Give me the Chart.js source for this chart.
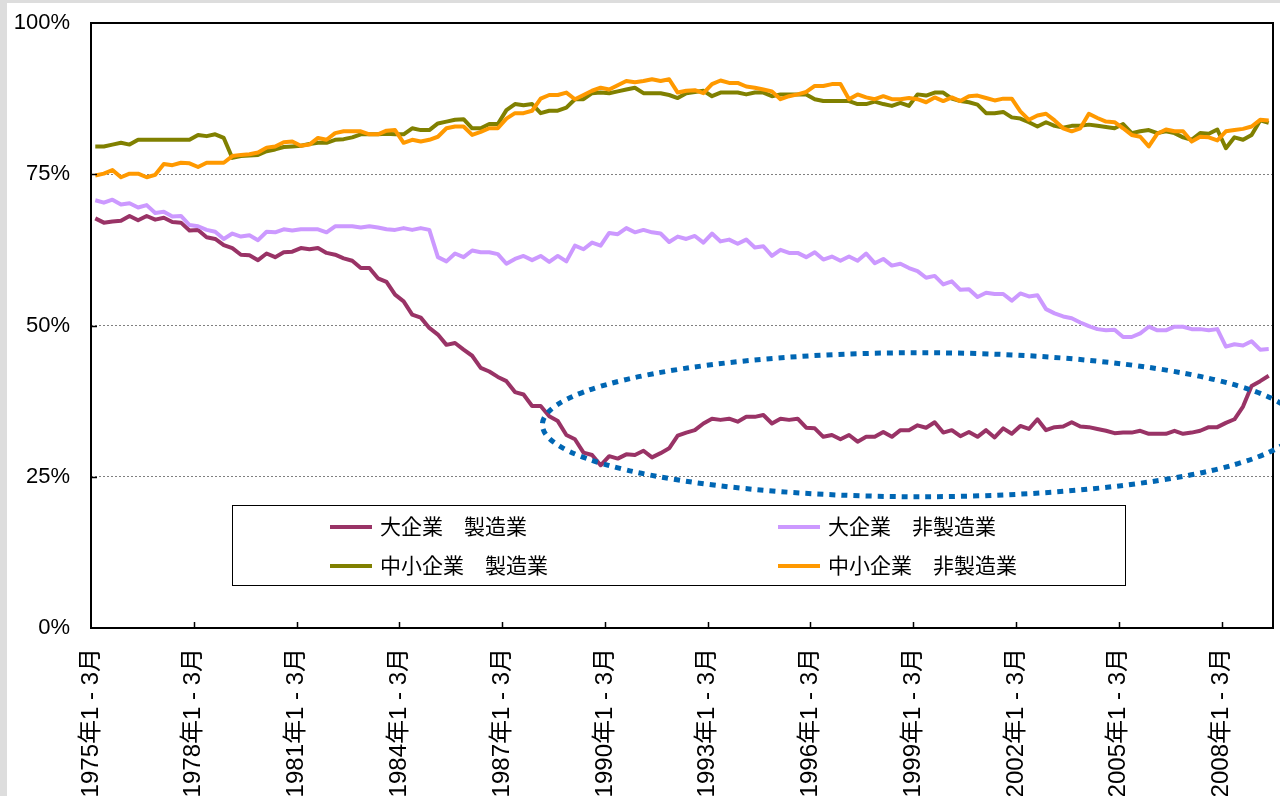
<!DOCTYPE html>
<html lang="ja">
<head>
  <meta charset="UTF-8">
  <title>企業規模・業種別の推移</title>
  <script src="https://cdn.jsdelivr.net/npm/chart.js"></script>
  <style>
    body { margin: 0; background: #dddddd; }
    #wrap { position: absolute; left: 7px; top: 3px; width: 1273px; height: 793px; background: #fff; }
  </style>
</head>
<body>
  <div id="wrap"><canvas id="chart"></canvas></div>

  <script>
    // 1975年1-3月 から 2009年4-6月 までの四半期
    const quarterNames = ['1 - 3月', '4 - 6月', '7 - 9月', '10 - 12月'];
    const categories = [];
    for (let y = 1975; y <= 2009; y++) {
      for (let q = 0; q < 4; q++) {
        if (categories.length < 138) categories.push(y + '年' + quarterNames[q]);
      }
    }

    const tickLabels = ['1975年1 - 3月', '1978年1 - 3月', '1981年1 - 3月', '1984年1 - 3月',
      '1987年1 - 3月', '1990年1 - 3月', '1993年1 - 3月', '1996年1 - 3月',
      '1999年1 - 3月', '2002年1 - 3月', '2005年1 - 3月', '2008年1 - 3月'];

    const seriesNames = ['大企業　製造業', '大企業　非製造業', '中小企業　製造業', '中小企業　非製造業'];
    const seriesColors = ['#993366', '#cc99ff', '#808000', '#ff9900'];

    const largeMfg = [
      67.7, 67.0, 67.2, 67.3, 68.1, 67.4, 68.1, 67.5, 67.8, 67.1,
      67.0, 65.7, 65.8, 64.6, 64.3, 63.3, 62.8, 61.7, 61.6, 60.8,
      61.9, 61.3, 62.1, 62.2, 62.8, 62.6, 62.8, 62.0, 61.7, 61.1,
      60.7, 59.5, 59.5, 57.8, 57.2, 55.1, 54.0, 51.8, 51.3, 49.6,
      48.5, 46.8, 47.1, 46.0, 45.0, 43.0, 42.4, 41.5, 40.8, 39.0,
      38.6, 36.7, 36.7, 35.0, 34.2, 31.9, 31.2, 29.0, 28.6, 26.9,
      28.4, 28.0, 28.7, 28.6, 29.3, 28.2, 28.9, 29.7, 31.8, 32.3,
      32.7, 33.8, 34.6, 34.4, 34.6, 34.1, 34.9, 34.9, 35.2, 33.8,
      34.6, 34.4, 34.6, 33.1, 33.0, 31.6, 31.9, 31.2, 31.9, 30.8,
      31.6, 31.6, 32.4, 31.6, 32.7, 32.7, 33.5, 33.1, 34.0, 32.3,
      32.7, 31.7, 32.4, 31.6, 32.7, 31.5, 33.0, 32.1, 33.4, 32.9,
      34.5, 32.7, 33.2, 33.3, 34.0, 33.3, 33.2, 32.9, 32.6, 32.2,
      32.3, 32.3, 32.6, 32.1, 32.1, 32.1, 32.6, 32.1, 32.3, 32.6,
      33.2, 33.2, 33.9, 34.5, 36.6, 40.0, 40.8, 41.7
    ];
    const largeNonMfg = [
      70.7, 70.3, 70.8, 70.0, 70.2, 69.5, 69.9, 68.6, 68.8, 68.0,
      68.1, 66.6, 66.4, 65.8, 65.5, 64.3, 65.2, 64.7, 64.9, 64.1,
      65.5, 65.4, 65.9, 65.7, 65.9, 65.9, 65.9, 65.4, 66.4, 66.4,
      66.4, 66.2, 66.4, 66.2, 65.9, 65.8, 66.1, 65.8, 66.1, 65.8,
      61.3, 60.6, 61.9, 61.3, 62.4, 62.1, 62.1, 61.8, 60.2, 61.0,
      61.5, 60.8, 61.5, 60.5, 61.5, 60.6, 63.2, 62.6, 63.7, 63.2,
      65.3, 65.1, 66.1, 65.4, 65.8, 65.4, 65.2, 63.8, 64.7, 64.3,
      64.8, 63.7, 65.2, 63.9, 64.2, 63.5, 64.2, 62.9, 63.1, 61.5,
      62.5, 62.0, 62.0, 61.3, 62.1, 60.9, 61.4, 60.7, 61.4, 60.7,
      61.9, 60.3, 61.0, 59.9, 60.2, 59.5, 59.0, 57.9, 58.2, 56.8,
      57.3, 55.9, 56.0, 54.7, 55.4, 55.2, 55.2, 54.1, 55.3, 54.8,
      55.0, 52.7, 52.0, 51.5, 51.2, 50.5, 49.9, 49.4, 49.2, 49.3,
      48.1, 48.1, 48.7, 49.8, 49.2, 49.2, 49.8, 49.8, 49.4, 49.4,
      49.2, 49.4, 46.5, 46.9, 46.7, 47.4, 46.0, 46.1
    ];
    const smallMfg = [
      79.6, 79.6, 79.9, 80.2, 79.9, 80.7, 80.7, 80.7, 80.7, 80.7,
      80.7, 80.7, 81.5, 81.3, 81.6, 81.0, 77.7, 78.0, 78.1, 78.2,
      78.8, 79.1, 79.5, 79.6, 79.7, 80.0, 80.2, 80.2, 80.7, 80.8,
      81.1, 81.6, 81.6, 81.6, 81.7, 81.6, 81.6, 82.6, 82.3, 82.3,
      83.4, 83.7, 84.0, 84.1, 82.6, 82.6, 83.3, 83.3, 85.6, 86.6,
      86.4, 86.6, 85.1, 85.5, 85.5, 86.0, 87.4, 87.4, 88.4, 88.5,
      88.4, 88.7, 89.0, 89.3, 88.4, 88.4, 88.4, 88.1, 87.6, 88.4,
      88.6, 88.8, 87.9, 88.5, 88.5, 88.5, 88.2, 88.5, 88.5, 87.9,
      88.2, 88.2, 88.2, 88.2, 87.4, 87.1, 87.1, 87.1, 87.1, 86.6,
      86.6, 87.0, 86.6, 86.3, 86.8, 86.3, 88.2, 88.0, 88.5, 88.5,
      87.5, 87.1, 86.9, 86.5, 85.1, 85.1, 85.3, 84.4, 84.2, 83.6,
      82.9, 83.6, 83.0, 82.7, 83.0, 83.0, 83.2, 83.0, 82.8, 82.6,
      83.3, 81.8, 82.1, 82.3, 81.8, 82.1, 81.8, 81.1, 80.7, 81.8,
      81.7, 82.4, 79.3, 81.1, 80.7, 81.5, 83.9, 83.5
    ];
    const smallNonMfg = [
      74.8, 75.1, 75.7, 74.5, 75.1, 75.1, 74.5, 74.9, 76.7, 76.5,
      76.9, 76.8, 76.2, 76.9, 76.9, 76.9, 78.0, 78.2, 78.3, 78.6,
      79.4, 79.6, 80.3, 80.4, 79.7, 79.9, 81.0, 80.7, 81.8, 82.1,
      82.1, 82.1, 81.6, 81.6, 82.2, 82.3, 80.2, 80.7, 80.4, 80.7,
      81.2, 82.6, 82.9, 82.9, 81.5, 82.0, 82.6, 82.6, 84.2, 85.1,
      85.1, 85.5, 87.5, 88.1, 88.1, 88.5, 87.4, 88.1, 88.8, 89.3,
      89.0, 89.7, 90.4, 90.2, 90.4, 90.7, 90.4, 90.7, 88.5, 88.8,
      88.9, 88.4, 89.9, 90.5, 90.1, 90.1, 89.5, 89.3, 89.0, 88.7,
      87.4, 87.9, 88.2, 88.6, 89.6, 89.6, 89.9, 89.9, 87.4, 88.2,
      87.7, 87.4, 87.9, 87.4, 87.4, 87.6, 87.4, 86.9, 87.7, 87.1,
      87.7, 87.1, 87.9, 88.0, 87.6, 87.2, 87.5, 87.5, 85.4, 84.0,
      84.7, 85.0, 83.9, 82.6, 82.1, 82.6, 85.0, 84.3, 83.7, 83.6,
      82.6, 81.5, 81.2, 79.6, 81.7, 82.4, 82.1, 82.1, 80.4, 81.2,
      81.1, 80.6, 82.1, 82.3, 82.5, 82.9, 84.0, 83.9
    ];

    // 注目範囲の楕円（四半期インデックスと%で指定）
    const highlight = { cx: 96.8, cy: 33.6, rx: 44.1, ry: 11.9 };

    const fontFamily = '"Liberation Sans", Arial, "Noto Sans CJK JP", sans-serif';
    Chart.defaults.font.family = fontFamily;
    Chart.defaults.color = '#000';

    const allSeries = [largeMfg, largeNonMfg, smallMfg, smallNonMfg];
    const datasets = allSeries.map((vals, k) => ({
      label: seriesNames[k],
      data: vals.map((v, i) => ({ x: i + 0.5, y: v })),
      borderColor: seriesColors[k],
      backgroundColor: seriesColors[k],
      borderWidth: 4,
      pointRadius: 0,
      tension: 0,
      borderJoinStyle: 'round',
      order: 4 - k
    }));

    const extras = {
      id: 'extras',
      afterDatasetsDraw(chart) {
        const ctx = chart.ctx;
        const a = chart.chartArea;
        const xs = chart.scales.x, ys = chart.scales.y;
        ctx.save();

        // frame
        ctx.strokeStyle = '#000';
        ctx.lineWidth = 2;
        ctx.strokeRect(a.left, a.top, a.right - a.left, a.bottom - a.top);

        // inner tick marks
        ctx.lineWidth = 1.5;
        ctx.beginPath();
        [25, 50, 75].forEach(v => {
          const y = Math.round(ys.getPixelForValue(v)) + 0.5;
          ctx.moveTo(a.left, y); ctx.lineTo(a.left + 6, y);
        });
        for (let i = 12; i < categories.length; i += 12) {
          const x = Math.round(xs.getPixelForValue(i)) + 0.5;
          ctx.moveTo(x, a.bottom); ctx.lineTo(x, a.bottom - 6);
        }
        ctx.stroke();

        // legend
        ctx.fillStyle = '#fff';
        ctx.fillRect(225, 502, 893, 80);
        ctx.strokeStyle = '#000';
        ctx.lineWidth = 1;
        ctx.strokeRect(225.5, 502.5, 893, 80);
        ctx.font = '21px ' + fontFamily;
        ctx.textBaseline = 'middle';
        ctx.textAlign = 'left';
        const cols = [323, 771], rows = [524, 563];
        seriesNames.forEach((name, k) => {
          const x = cols[k % 2], y = rows[Math.floor(k / 2)];
          ctx.strokeStyle = seriesColors[k];
          ctx.lineWidth = 4;
          ctx.beginPath(); ctx.moveTo(x, y); ctx.lineTo(x + 42, y); ctx.stroke();
          ctx.fillStyle = '#000';
          ctx.fillText(name, x + 50, y + 1);
        });

        // dotted ellipse
        const cx = xs.getPixelForValue(highlight.cx);
        const cy = ys.getPixelForValue(highlight.cy);
        const rx = xs.getPixelForValue(highlight.cx + highlight.rx) - cx;
        const ry = cy - ys.getPixelForValue(highlight.cy + highlight.ry);
        ctx.strokeStyle = '#0066b3';
        ctx.lineWidth = 5;
        ctx.setLineDash([6, 6]);
        ctx.lineCap = 'butt';
        ctx.beginPath();
        ctx.ellipse(cx, cy, rx, ry, 0, 0, Math.PI * 2);
        ctx.stroke();
        ctx.restore();
      }
    };

    new Chart(document.getElementById('chart'), {
      type: 'line',
      data: { datasets },
      options: {
        responsive: true,
        maintainAspectRatio: false,
        animation: false,
        layout: { padding: { top: 20, right: 7, left: 0, bottom: 0 } },
        plugins: { legend: { display: false }, tooltip: { enabled: false } },
        scales: {
          x: {
            type: 'linear',
            min: 0,
            max: categories.length,
            afterFit: s => { s.height = 168; s.paddingTop = 0; s.paddingBottom = 0; },
            grid: { display: false },
            border: { display: false },
            ticks: {
              stepSize: 12,
              includeBounds: false,
              autoSkip: false,
              maxRotation: 90,
              minRotation: 90,
              padding: 12,
              font: { size: 24 },
              callback: v => (v % 12 === 0 ? tickLabels[v / 12] : '')
            }
          },
          y: {
            min: 0,
            max: 100,
            afterFit: s => { s.width = 84; s.paddingTop = 0; s.paddingBottom = 0; },
            grid: {
              drawTicks: false,
              lineWidth: 1,
              color: c => (c.tick.value === 0 || c.tick.value === 100) ? 'rgba(0,0,0,0)' : '#808080'
            },
            border: { display: false, dash: [2, 2] },
            ticks: {
              stepSize: 25,
              padding: 21,
              font: { size: 22 },
              callback: v => v + '%'
            }
          }
        }
      },
      plugins: [extras]
    });
  </script>
</body>
</html>
